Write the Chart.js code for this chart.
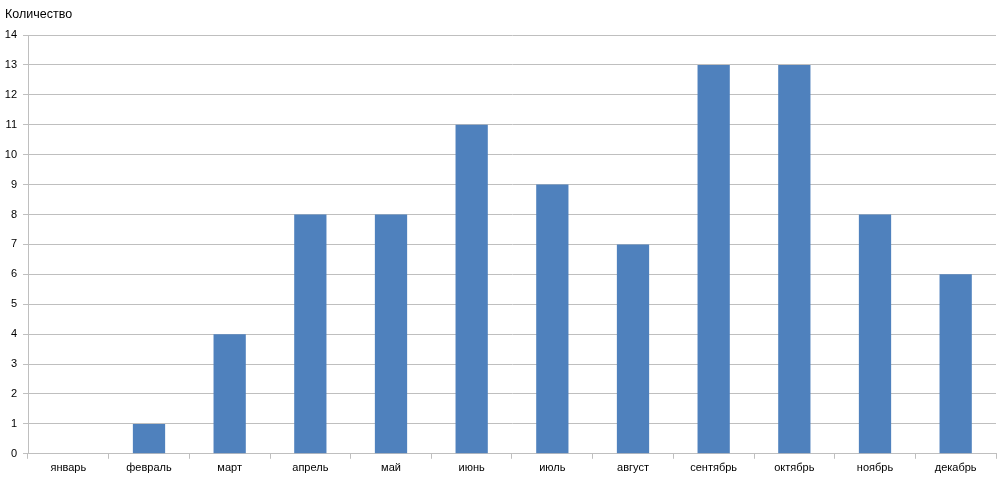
<!DOCTYPE html>
<html>
<head>
<meta charset="utf-8">
<script src="https://cdn.jsdelivr.net/npm/chart.js@4"></script>
<style>
  html, body { margin: 0; padding: 0; background: #fff; }
  #wrap { width: 1000px; height: 479px; }
</style>
</head>
<body>
<div id="wrap"><canvas id="countChart"></canvas></div>
<script>
const months = ['январь', 'февраль', 'март', 'апрель', 'май', 'июнь', 'июль', 'август', 'сентябрь', 'октябрь', 'ноябрь', 'декабрь'];
const counts = [0, 1, 4, 8, 8, 11, 9, 7, 13, 13, 8, 6];
const yTitle = 'Количество';
const yMax = 14;

const ctx = document.getElementById('countChart').getContext('2d');
const countChart = new Chart(ctx, {
    type: 'bar',
    data: {
        labels: months,
        datasets: [{
            label: yTitle,
            data: counts,
            backgroundColor: '#4F81BD',
            borderWidth: 0,
            barPercentage: 0.4,
            categoryPercentage: 1.0
        }]
    },
    options: {
        responsive: true,
        maintainAspectRatio: false,
        animation: false,
        layout: {
            padding: { left: 5, right: 4, top: 0, bottom: 1 }
        },
        plugins: {
            legend: { display: false },
            tooltip: { enabled: false },
            title: {
                display: true,
                text: yTitle,
                align: 'start',
                color: '#000',
                font: { family: 'Liberation Sans', size: 12.5, weight: 'normal' },
                padding: { top: 7, bottom: 13 }
            }
        },
        scales: {
            x: {
                offset: true,
                grid: {
                    offset: true,
                    drawOnChartArea: false,
                    drawTicks: true,
                    tickLength: 5,
                    color: '#BFBFBF'
                },
                border: { color: '#BFBFBF' },
                ticks: {
                    color: '#000',
                    font: { family: 'Liberation Sans', size: 11 },
                    padding: 3,
                    maxRotation: 0
                }
            },
            y: {
                min: 0,
                max: yMax,
                afterFit: function (scale) { scale.width = 23; },
                grid: {
                    color: '#BFBFBF',
                    tickLength: 5
                },
                border: { color: '#BFBFBF' },
                ticks: {
                    stepSize: 1,
                    color: '#000',
                    font: { family: 'Liberation Sans', size: 11 },
                    padding: 6
                }
            }
        }
    }
});
</script>
</body>
</html>
